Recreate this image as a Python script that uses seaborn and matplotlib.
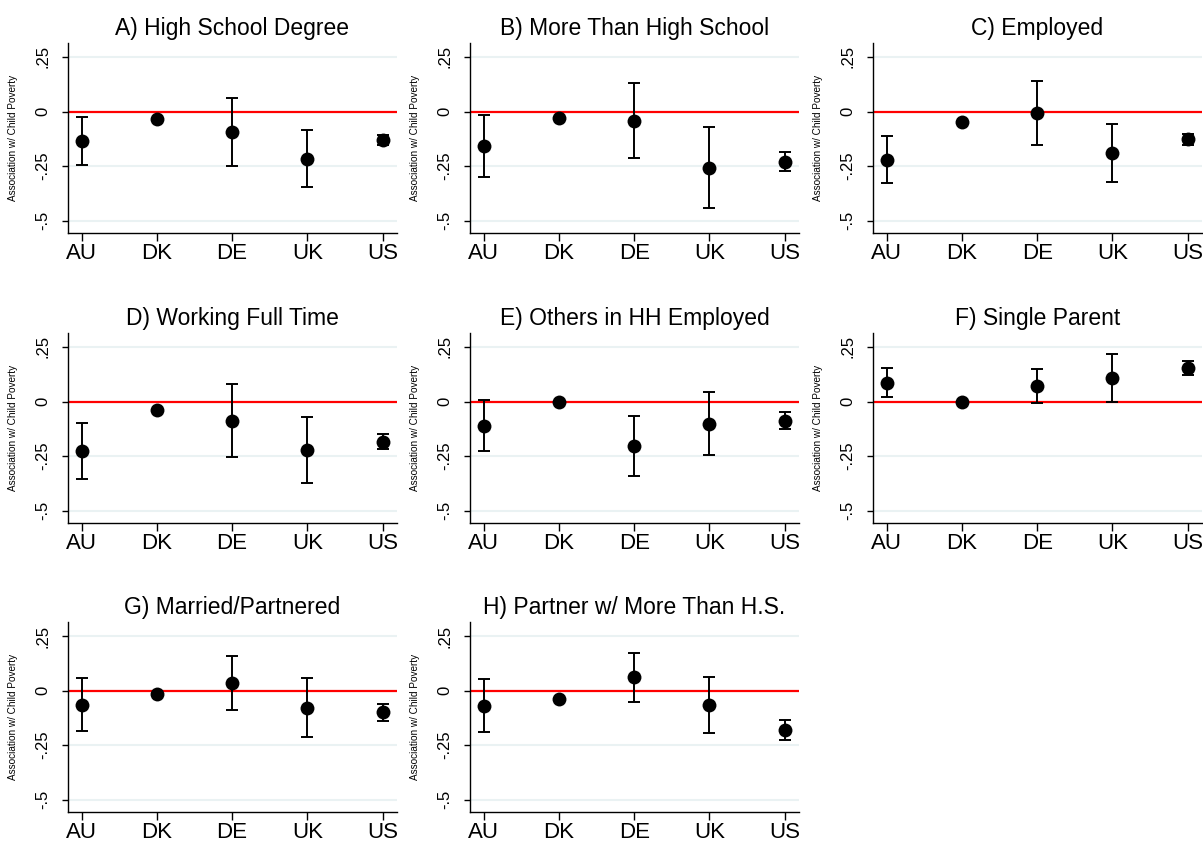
import numpy as np
import pandas as pd
import seaborn as sns
import matplotlib
matplotlib.use("Agg")
import matplotlib.pyplot as plt

countries = ["AU", "DK", "DE", "UK", "US"]

titles = [
    "A) High School Degree",
    "B) More Than High School",
    "C) Employed",
    "D) Working Full Time",
    "E) Others in HH Employed",
    "F) Single Parent",
    "G) Married/Partnered",
    "H) Partner w/ More Than H.S.",
]

# point estimates per panel (AU, DK, DE, UK, US)
est_a = [-0.137, -0.034, -0.095, -0.216, -0.131]
est_b = [-0.160, -0.030, -0.043, -0.259, -0.229]
est_c = [-0.221, -0.049, -0.009, -0.191, -0.128]
est_d = [-0.226, -0.038, -0.087, -0.223, -0.185]
est_e = [-0.112, -0.003, -0.202, -0.102, -0.088]
est_f = [0.087, -0.002, 0.071, 0.108, 0.155]
est_g = [-0.064, -0.017, 0.034, -0.078, -0.099]
est_h = [-0.072, -0.037, 0.061, -0.064, -0.180]

# lower / upper confidence bounds
lo_a = [-0.247, -0.038, -0.248, -0.346, -0.155]
hi_a = [-0.024, -0.030, 0.063, -0.085, -0.107]
lo_b = [-0.302, -0.034, -0.215, -0.440, -0.273]
hi_b = [-0.018, -0.026, 0.131, -0.072, -0.186]
lo_c = [-0.329, -0.053, -0.155, -0.323, -0.152]
hi_c = [-0.110, -0.045, 0.142, -0.056, -0.105]
lo_d = [-0.356, -0.042, -0.254, -0.371, -0.219]
hi_d = [-0.099, -0.034, 0.082, -0.071, -0.150]
lo_e = [-0.226, -0.007, -0.340, -0.246, -0.125]
hi_e = [0.006, 0.001, -0.065, 0.044, -0.050]
lo_f = [0.020, -0.006, -0.009, 0.000, 0.123]
hi_f = [0.152, 0.002, 0.150, 0.219, 0.185]
lo_g = [-0.187, -0.021, -0.091, -0.213, -0.137]
hi_g = [0.059, -0.013, 0.157, 0.059, -0.061]
lo_h = [-0.191, -0.041, -0.052, -0.194, -0.226]
hi_h = [0.052, -0.033, 0.174, 0.064, -0.136]

estimates = [est_a, est_b, est_c, est_d, est_e, est_f, est_g, est_h]
lowers = [lo_a, lo_b, lo_c, lo_d, lo_e, lo_f, lo_g, lo_h]
uppers = [hi_a, hi_b, hi_c, hi_d, hi_e, hi_f, hi_g, hi_h]

yticks = [0.25, 0, -0.25, -0.5]
ytick_labels = [".25", "0", "-.25", "-.5"]

sns.set_style("ticks")
plt.rcParams["font.family"] = ["Liberation Sans", "DejaVu Sans"]
plt.rcParams["text.color"] = "black"
plt.rcParams["axes.labelcolor"] = "black"
plt.rcParams["xtick.color"] = "black"
plt.rcParams["ytick.color"] = "black"

fig = plt.figure(figsize=(12.03, 8.42), dpi=100)

col_left = [0.0565, 0.3907, 0.7257]
row_bottom = [0.7233, 0.3789, 0.0356]
ax_w, ax_h = 0.2735, 0.2257

for i, title in enumerate(titles):
    r, c = divmod(i, 3)
    ax = fig.add_axes([col_left[c], row_bottom[r], ax_w, ax_h])
    df = pd.DataFrame({
        "pos": np.arange(len(countries)),
        "country": countries,
        "est": estimates[i],
        "lo": lowers[i],
        "hi": uppers[i],
    })
    for y in yticks:
        ax.axhline(y, color="#EAF2F3", lw=1.5, zorder=0)
    ax.axhline(0, color="#FF0000", lw=1.6, zorder=1)
    ax.errorbar(df["pos"], df["est"],
                yerr=[df["est"] - df["lo"], df["hi"] - df["est"]],
                fmt="none", ecolor="black", elinewidth=1.4,
                capsize=4.3, capthick=1.4, zorder=2)
    sns.scatterplot(data=df, x="pos", y="est", ax=ax, color="black",
                    s=100, edgecolor="black", linewidth=0, zorder=3)

    ax.set_xlim(-0.18, 4.19)
    ax.set_ylim(-0.556, 0.314)
    ax.set_xticks(df["pos"])
    ax.set_xticklabels(countries, fontsize=16)
    ax.set_yticks(yticks)
    ax.set_yticklabels(ytick_labels, fontsize=12, rotation=90, va="center")
    ax.tick_params(axis="y", length=4.5, width=1, pad=8)
    ax.tick_params(axis="x", length=5.5, width=1, pad=2)
    ax.set_xlabel("")
    ax.set_ylabel("Association w/ Child Poverty", fontsize=7.2)
    ax.yaxis.set_label_coords(-0.152, 0.5)
    ax.set_title(title, fontsize=16.5, pad=6)
    sns.despine(ax=ax)
    for s in ("left", "bottom"):
        ax.spines[s].set_linewidth(1)
        ax.spines[s].set_color("black")

fig.savefig("out.png", dpi=100)
